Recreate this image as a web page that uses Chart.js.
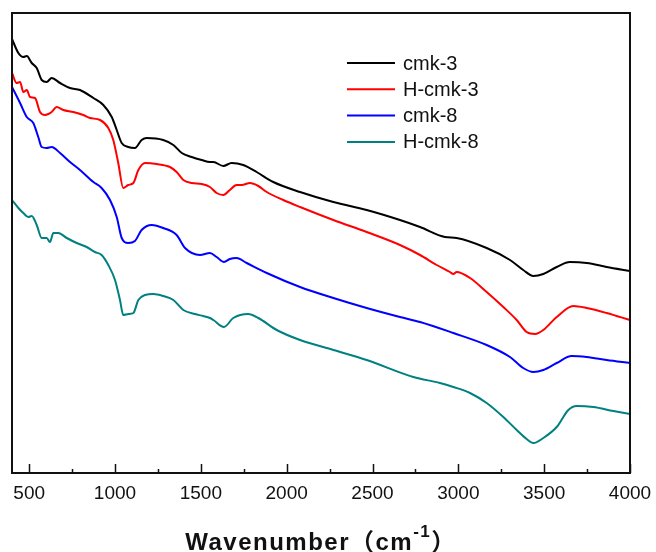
<!DOCTYPE html>
<html>
<head>
<meta charset="utf-8">
<script src="https://cdn.jsdelivr.net/npm/chart.js@4.4.1/dist/chart.umd.min.js"></script>
<style>
  html, body { margin: 0; padding: 0; background: #fff; }
  #wrap { width: 656px; height: 552px; }
</style>
</head>
<body>
<div id="wrap"><canvas id="ftir"></canvas></div>
<script>
// ---- data (x = wavenumber, y = transmittance a.u.) ----
const seriesNames = ["cmk-3", "H-cmk-3", "cmk-8", "H-cmk-8"];
const seriesColors = ["#000000", "#ff0000", "#0000ff", "#008080"];

const cmk3X = [400, 437, 466, 486, 515, 544, 573, 602, 631, 680, 738, 796, 874, 932, 981, 1010, 1039, 1077, 1116, 1155, 1185, 1281, 1340, 1389, 1447, 1505, 1553, 1573, 1631, 1679, 1747, 1825, 1922, 2078, 2272, 2466, 2660, 2777, 2922, 2990, 3165, 3301, 3378, 3437, 3495, 3573, 3650, 3748, 3864, 4000];
const cmk3Y = [434, 420, 416, 417, 410, 405, 393, 391, 395, 390, 385, 383, 375, 368, 356, 343, 330, 326, 325, 333, 335, 333, 328, 320, 316, 313, 311, 311, 307, 310, 308, 301, 291, 281, 271, 263, 253, 246, 236, 235, 225, 213, 203, 197, 199, 206, 211, 210, 206, 202];

const hcmk3X = [400, 427, 447, 466, 486, 505, 534, 563, 592, 631, 660, 699, 757, 815, 854, 913, 961, 990, 1019, 1048, 1077, 1107, 1136, 1175, 1243, 1320, 1359, 1398, 1447, 1505, 1553, 1592, 1631, 1669, 1708, 1738, 1786, 1835, 1884, 1980, 2078, 2272, 2466, 2660, 2777, 2874, 2951, 2971, 2990, 3068, 3165, 3262, 3340, 3398, 3447, 3495, 3573, 3670, 3748, 3864, 4000];
const hcmk3Y = [400, 390, 391, 381, 383, 376, 375, 361, 358, 361, 366, 363, 361, 358, 355, 353, 345, 333, 310, 285, 288, 290, 303, 310, 309, 306, 301, 293, 290, 289, 286, 280, 278, 283, 288, 288, 290, 287, 281, 273, 266, 253, 241, 228, 218, 208, 201, 199, 201, 195, 181, 166, 153, 141, 139, 143, 156, 167, 165, 160, 153];

const cmk8X = [400, 447, 486, 524, 553, 573, 602, 631, 680, 738, 796, 874, 922, 971, 1010, 1039, 1077, 1116, 1155, 1214, 1281, 1359, 1408, 1495, 1553, 1592, 1635, 1669, 1708, 1767, 1884, 2078, 2272, 2466, 2660, 2777, 2971, 3165, 3301, 3378, 3437, 3495, 3573, 3660, 3748, 3864, 4000];
const cmk8Y = [386, 370, 356, 350, 336, 326, 325, 326, 320, 311, 303, 291, 285, 273, 256, 235, 230, 232, 243, 248, 245, 238, 225, 218, 220, 216, 211, 214, 215, 210, 200, 186, 175, 165, 156, 151, 140, 128, 116, 105, 101, 103, 110, 117, 116, 113, 110];

const hcmk8X = [400, 437, 466, 495, 515, 544, 573, 602, 621, 641, 670, 719, 777, 835, 883, 922, 961, 1000, 1029, 1048, 1077, 1107, 1136, 1175, 1223, 1281, 1340, 1398, 1466, 1514, 1553, 1573, 1635, 1689, 1776, 1835, 1942, 2078, 2272, 2466, 2738, 2893, 2971, 3068, 3165, 3262, 3340, 3398, 3437, 3495, 3573, 3641, 3689, 3786, 3903, 4000];
const hcmk8Y = [273, 265, 260, 256, 257, 248, 235, 235, 231, 240, 240, 235, 230, 226, 221, 218, 208, 193, 173, 158, 159, 160, 173, 178, 179, 177, 173, 163, 159, 157, 155, 153, 146, 155, 159, 155, 143, 133, 123, 113, 96, 90, 86, 80, 70, 56, 43, 34, 30, 35, 46, 63, 67, 66, 62, 59];

const majorTicks = [500, 1000, 1500, 2000, 2500, 3000, 3500, 4000];
const minorTicks = [750, 1250, 1750, 2250, 2750, 3250, 3750];

const xs = [cmk3X, hcmk3X, cmk8X, hcmk8X];
const ys = [cmk3Y, hcmk3Y, cmk8Y, hcmk8Y];

const datasets = seriesNames.map((name, i) => ({
  label: name,
  data: xs[i].map((x, k) => ({ x, y: ys[i][k] })),
  borderColor: seriesColors[i],
  borderWidth: 2,
  pointRadius: 0,
  cubicInterpolationMode: "monotone",
  fill: false
}));

// frame, inward ticks, tick labels, axis title and legend
const decorations = {
  id: "decorations",
  afterDraw(chart) {
    const { ctx, chartArea: a } = chart;
    const xScale = chart.scales.x;
    ctx.save();

    // frame
    ctx.strokeStyle = "#111";
    ctx.lineWidth = 2;
    ctx.strokeRect(a.left, a.top, a.right - a.left, a.bottom - a.top);

    // ticks pointing inward
    ctx.lineWidth = 1.5;
    ctx.beginPath();
    majorTicks.forEach(v => {
      const px = Math.round(xScale.getPixelForValue(v)) + 0.5;
      ctx.moveTo(px, a.bottom);
      ctx.lineTo(px, a.bottom - 9);
    });
    minorTicks.forEach(v => {
      const px = Math.round(xScale.getPixelForValue(v)) + 0.5;
      ctx.moveTo(px, a.bottom);
      ctx.lineTo(px, a.bottom - 4);
    });
    ctx.stroke();

    // tick labels
    ctx.fillStyle = "#111";
    ctx.font = '19px Arial, "Liberation Sans", sans-serif';
    ctx.textAlign = "center";
    ctx.textBaseline = "middle";
    majorTicks.forEach(v => {
      ctx.fillText(String(v), xScale.getPixelForValue(v), a.bottom + 21);
    });

    // axis title with superscript
    const mainFont = 'bold 24px Arial, "Liberation Sans", "Noto Sans CJK SC", sans-serif';
    const supFont = 'bold 17px Arial, "Liberation Sans", sans-serif';
    ctx.textAlign = "left";
    ctx.textBaseline = "alphabetic";
    ctx.letterSpacing = "1.5px";
    ctx.font = mainFont;
    const p1 = "Wavenumber\uFF08cm";
    const p3 = "\uFF09";
    const w1 = ctx.measureText(p1).width;
    const w3 = ctx.measureText(p3).width;
    ctx.font = supFont;
    const w2 = ctx.measureText("-1").width;
    const total = w1 + w2 + w3;
    let tx = (a.left + a.right) / 2 - total / 2;
    const ty = 550;
    ctx.font = mainFont;
    ctx.fillText(p1, tx, ty);
    tx += w1;
    ctx.font = supFont;
    ctx.fillText("-1", tx, ty - 13);
    tx += w2;
    ctx.font = mainFont;
    ctx.fillText(p3, tx, ty);
    ctx.letterSpacing = "0px";

    // legend
    ctx.font = '20px Arial, "Liberation Sans", sans-serif';
    ctx.textBaseline = "middle";
    chart.data.datasets.forEach((ds, i) => {
      const y = 63 + i * 26.3;
      ctx.strokeStyle = ds.borderColor;
      ctx.lineWidth = 2;
      ctx.beginPath();
      ctx.moveTo(347, y);
      ctx.lineTo(395, y);
      ctx.stroke();
      ctx.fillStyle = "#111";
      ctx.fillText(ds.label, 403, y + 1);
    });

    ctx.restore();
  }
};

new Chart(document.getElementById("ftir"), {
  type: "line",
  data: { datasets },
  options: {
    responsive: true,
    maintainAspectRatio: false,
    animation: false,
    layout: { padding: { left: 12, top: 13, right: 26, bottom: 79 } },
    plugins: {
      legend: { display: false },
      tooltip: { enabled: false }
    },
    scales: {
      x: { type: "linear", min: 400, max: 4000, display: false },
      y: { type: "linear", min: 0, max: 460, display: false }
    }
  },
  plugins: [decorations]
});
</script>
</body>
</html>
